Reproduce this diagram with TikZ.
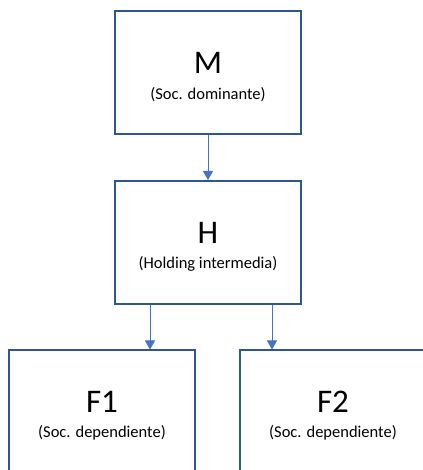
\documentclass[tikz,border=0pt]{standalone}
\usepackage{fontspec}
\setmainfont{Carlito}
\usetikzlibrary{arrows.meta}

\definecolor{boxblue}{HTML}{2F5597}
\definecolor{linkblue}{HTML}{4472C4}

\tikzset{
  box/.style = {draw=boxblue, line width=2pt, minimum width=186pt, minimum height=123pt, inner sep=0pt},
  bigtext/.style = {anchor=base, font=\fontsize{33}{33}\selectfont},
  subtext/.style = {anchor=base, font=\fontsize{16.5}{17}\selectfont},
  link/.style = {draw=linkblue, line width=0.9pt, -{Triangle[width=10pt,length=9pt]}}
}

\begin{document}
\begin{tikzpicture}[x=1pt, y=1pt]
\useasboundingbox (0,0) rectangle (422,470);
\node[box] (M) at (208,397) {};
\node[box] (H) at (208,227.5) {};
\node[box] (F1) at (102,58) {};
\node[box] (F2) at (333,58) {};
\node[bigtext] (Mname) at ([yshift=-1pt]M.center) {M};
\node[subtext] (Msub) at ([yshift=-27pt]M.center) {(Soc. dominante)};
\node[bigtext] (Hname) at ([yshift=-1pt]H.center) {H};
\node[subtext] (Hsub) at ([yshift=-26pt]H.center) {(Holding intermedia)};
\node[bigtext] (F1name) at ([yshift=-1pt]F1.center) {F1};
\node[subtext] (F1sub) at ([yshift=-26pt]F1.center) {(Soc. dependiente)};
\node[bigtext] (F2name) at ([yshift=-1pt]F2.center) {F2};
\node[subtext] (F2sub) at ([yshift=-26pt]F2.center) {(Soc. dependiente)};
\draw[link] (M.south) -- (H.north);
\draw[link] ([xshift=-58pt]H.south) -- ([xshift=-58pt]H.south |- F1.north);
\draw[link] ([xshift=64pt]H.south) -- ([xshift=64pt]H.south |- F2.north);
\end{tikzpicture}
\end{document}
